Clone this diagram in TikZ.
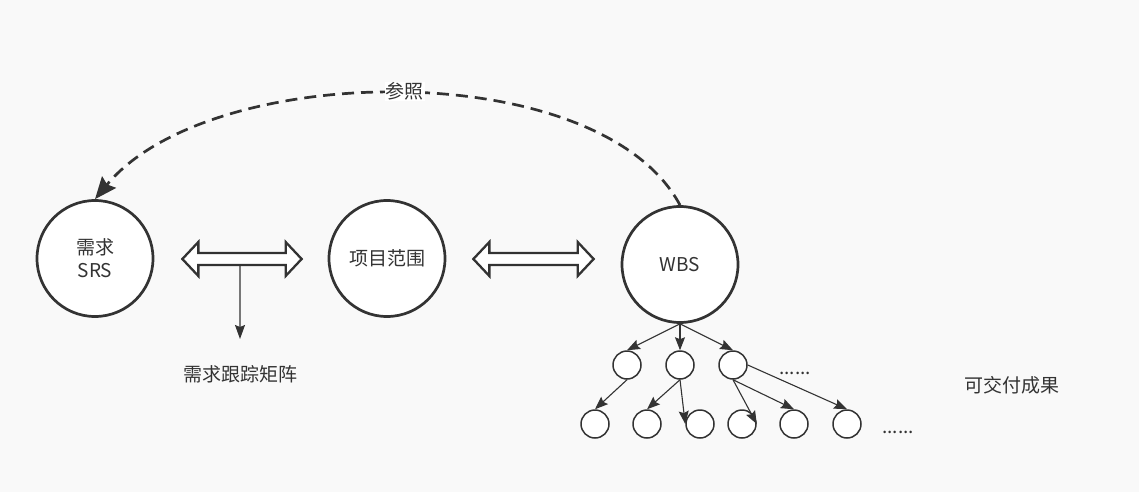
\documentclass[tikz,border=0pt]{standalone}
\usepackage{fontspec}
\setmainfont{Noto Sans CJK SC}
\usetikzlibrary{arrows.meta,calc}
\definecolor{bg}{HTML}{F9F9F9}
\definecolor{ink}{HTML}{333333}
\begin{document}
\begin{tikzpicture}[x=1pt,y=-1pt,
  big/.style={circle,draw=ink,line width=2.7pt,fill=white,minimum size=116pt,inner sep=0pt,
    font=\fontsize{19}{23}\selectfont,text=ink,align=center},
  small/.style={circle,draw=ink,line width=1.5pt,fill=white,minimum size=28pt,inner sep=0pt},
  lbl/.style={font=\fontsize{19}{23}\selectfont,text=ink,inner sep=1pt},
  tarrow/.style={draw=ink,line width=1.1pt,-{Stealth[length=13pt,width=10pt,inset=2pt]}},
  hollow/.style={draw=ink,line width=2.3pt,fill=white,line join=miter},
  refline/.style={draw=ink,line width=2.7pt,dash pattern=on 12pt off 7pt,
    -{Stealth[length=22pt,width=18pt,inset=3pt]}}
]
\fill[bg] (0,0) rectangle (1139,492);
\useasboundingbox (0,0) rectangle (1139,492);

% main circles
\node[big] (srs) at (95,258.5) {需求\\SRS};
\node[big] (scope) at (387,258.5) {项目范围};
\node[big] (wbs) at (680,264.5) {WBS};

% hollow double arrows
\coordinate (a1) at ($(srs.east)+(28,0.5)$);
\coordinate (a2) at ($(scope.west)+(-26,0.5)$);
\coordinate (a3) at ($(scope.east)+(27,0.5)$);
\coordinate (a4) at ($(wbs.west)+(-27,-5.5)$);
\draw[hollow] (a1) -- ++(16,-17) -- ++(0,11) -- ($(a2)+(-16,-6)$) -- ++(0,-11) -- (a2)
  -- ++(-16,17) -- ++(0,-11) -- ($(a1)+(16,6)$) -- ++(0,11) -- cycle;
\draw[hollow] (a3) -- ++(16,-17) -- ++(0,11) -- ($(a4)+(-16,-6)$) -- ++(0,-11) -- (a4)
  -- ++(-16,17) -- ++(0,-11) -- ($(a3)+(16,6)$) -- ++(0,11) -- cycle;

% traceability matrix
\coordinate (mid) at ($(a1)!0.5!(a2)+(-2,6)$);
\node[lbl] (rtm) at (240,374) {需求跟踪矩阵};
\coordinate (rtmend) at (240,339);
\draw[tarrow,-{Stealth[length=14pt,width=10pt,inset=2pt]}] (mid) -- (rtmend);

% reference curve
\draw[refline] (wbs.north) .. controls (600,55) and (210,60) .. (srs.north);
\node[lbl,fill=white,inner sep=1pt] (ref) at (404.5,91.5) {参照};

% tree
\node[small] (c1) at (627,365) {};
\node[small] (c2) at (680,365) {};
\node[small] (c3) at (733,365) {};
\node[small] (d1) at (595,424) {};
\node[small] (d2) at (647,424) {};
\node[small] (d3) at (700,424) {};
\node[small] (d4) at (742,424) {};
\node[small] (d5) at (794,424) {};
\node[small] (d6) at (847,424) {};

\draw[tarrow] (wbs.south) -- (c1.north);
\draw[tarrow] (wbs.south) -- (c2.north);
\draw[tarrow] (wbs.south) -- (c3.north);
\draw[tarrow] (c1.south) -- (d1.north);
\draw[tarrow] (c2.south) -- (d2.north);
\draw[tarrow] (c2.south) -- (d3.west);
\draw[tarrow] (c3.south) -- (d4.east);
\draw[tarrow] (c3.south) -- (d5.north);
\draw[tarrow] (c3.east) -- (d6.north);

\node[lbl,anchor=base] (dots1) at (795,374) {......};
\node[lbl,anchor=base] (dots2) at (898,433) {......};
\node[lbl] (deliv) at (1011.5,385) {可交付成果};
\end{tikzpicture}
\end{document}
